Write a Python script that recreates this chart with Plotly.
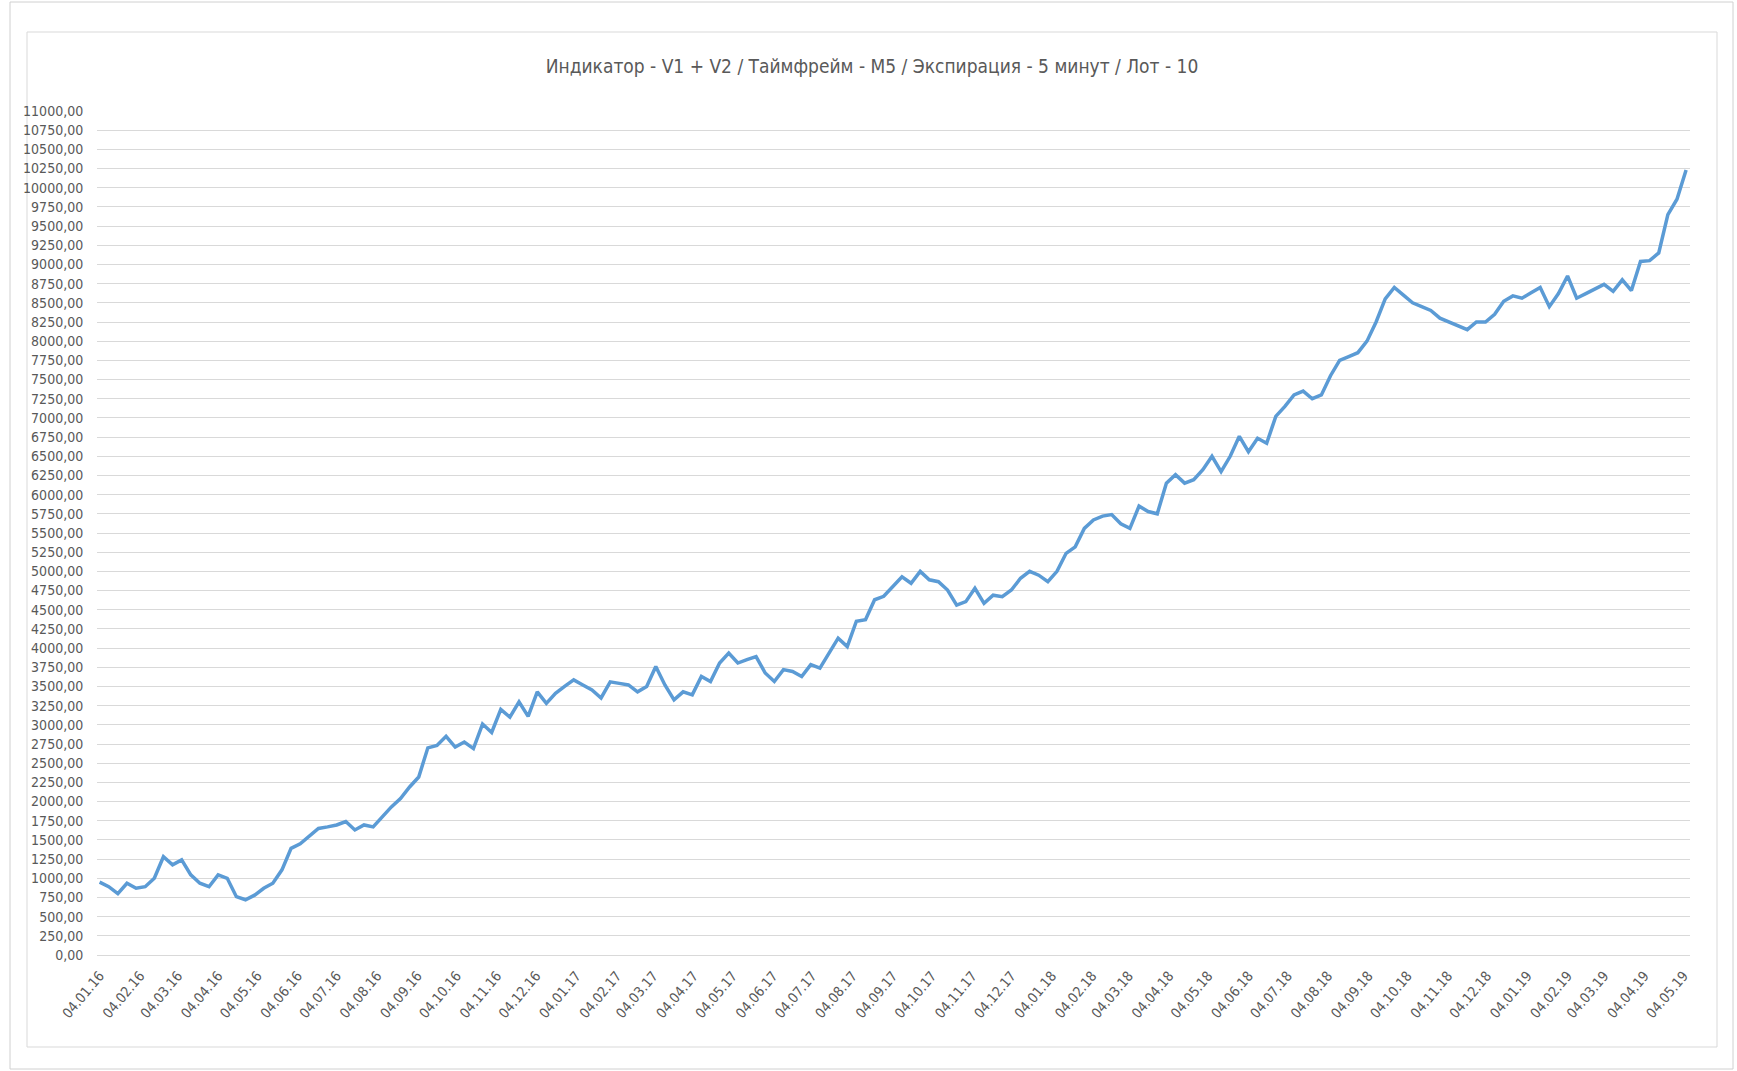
import pandas as pd
import plotly.graph_objects as go

title_text = "Индикатор - V1 + V2 / Таймфрейм - M5 / Экспирация - 5 минут / Лот - 10"

start_date = "2016-01-04"
balance = [
    950, 890, 800, 935, 870, 890, 1000, 1280, 1175, 1240,
    1045, 935, 890, 1045, 1000, 760, 720, 780, 870, 935,
    1110, 1390, 1450, 1545, 1650, 1670, 1695, 1740, 1630, 1695,
    1670, 1800, 1930, 2040, 2190, 2320, 2700, 2730, 2850, 2710,
    2775, 2690, 3010, 2900, 3200, 3100, 3300, 3110, 3430, 3280,
    3410, 3500, 3585, 3520, 3455, 3350, 3560, 3540, 3520, 3430,
    3500, 3760, 3520, 3325, 3430, 3390, 3630, 3565, 3805, 3935,
    3805, 3850, 3890, 3675, 3565, 3720, 3695, 3630, 3785, 3740,
    3935, 4130, 4020, 4350, 4370, 4630, 4675, 4800, 4930, 4845,
    5000, 4890, 4865, 4757, 4560, 4605, 4780, 4583, 4690, 4670,
    4757, 4910, 5000, 4950, 4865, 5000, 5235, 5320, 5560, 5670,
    5720, 5740, 5620, 5560, 5850, 5780, 5750, 6150, 6260, 6150,
    6195, 6325, 6500, 6300, 6500, 6760, 6560, 6735, 6670, 7020,
    7150, 7300, 7350, 7250, 7300, 7550, 7750, 7800, 7850, 8000,
    8250, 8550, 8700, 8600, 8500, 8450, 8400, 8300, 8250, 8200,
    8150, 8250, 8250, 8350, 8520, 8590, 8560, 8630, 8700, 8450,
    8620, 8850, 8560, 8620, 8680, 8740, 8650, 8800, 8660, 9040,
    9050, 9150, 9650, 9850, 10230,
]
dates = pd.date_range(start_date, periods=len(balance), freq="7D")

y_tick_values = list(range(0, 11001, 250))
x_range = ["2016-01-02", "2019-05-09"]

W, H = 1737, 1071
ML, MR, MT, MB = 97, 47, 111, 116
PW, PH = W - ML - MR, H - MT - MB
FONT = "Liberation Sans Narrow, DejaVu Sans Condensed, Roboto Condensed, Arial Narrow, sans-serif"
GRID = "#D9D9D9"
TXT = "#595959"


def px_x(x):
    return (x - ML) / PW


def px_y(y):
    return (H - MB - y) / PH


fig = go.Figure()
fig.add_trace(go.Scatter(
    x=dates, y=balance, mode="lines",
    line=dict(color="#5B9BD5", width=3.5),
    hoverinfo="x+y", showlegend=False,
))

fig.update_layout(
    width=W, height=H,
    margin=dict(l=ML, r=MR, t=MT, b=MB),
    paper_bgcolor="white", plot_bgcolor="white",
    separators=",.",
    font=dict(family=FONT, color=TXT, size=14),
    title=dict(text=title_text, x=872 / W, xanchor="center", xref="container",
               y=1 - 66 / H, yanchor="middle", yref="container",
               font=dict(family=FONT, size=19, color=TXT)),
    xaxis=dict(
        type="date", range=x_range,
        tick0=start_date, dtick="M1", tickformat="%d.%m.%y",
        tickangle=-50, showgrid=False, zeroline=False,
        showline=True, linecolor=GRID, linewidth=1,
        ticks="outside", ticklen=6, tickcolor="rgba(0,0,0,0)",
        tickfont=dict(family=FONT, size=14, color=TXT),
    ),
    yaxis=dict(
        range=[0, 11000], tickvals=y_tick_values, tickformat=".2f",
        showgrid=True, gridcolor=GRID, gridwidth=1,
        zeroline=False, showline=False,
        ticks="outside", ticklen=10, tickcolor="rgba(0,0,0,0)",
        tickfont=dict(family=FONT, size=14, color=TXT),
    ),
    shapes=[
        dict(type="rect", xref="paper", yref="paper",
             x0=px_x(10), x1=px_x(1733), y0=px_y(1069), y1=px_y(2),
             line=dict(color="#D0D0D0", width=1), layer="below"),
        dict(type="rect", xref="paper", yref="paper",
             x0=px_x(27), x1=px_x(1717), y0=px_y(1047), y1=px_y(32),
             line=dict(color="#D9D9D9", width=1), layer="below"),
    ],
)

fig.write_html(
    "out.html",
    config={"displayModeBar": False},
    post_script="document.body.style.margin='0';document.body.style.overflow='hidden';",
)
